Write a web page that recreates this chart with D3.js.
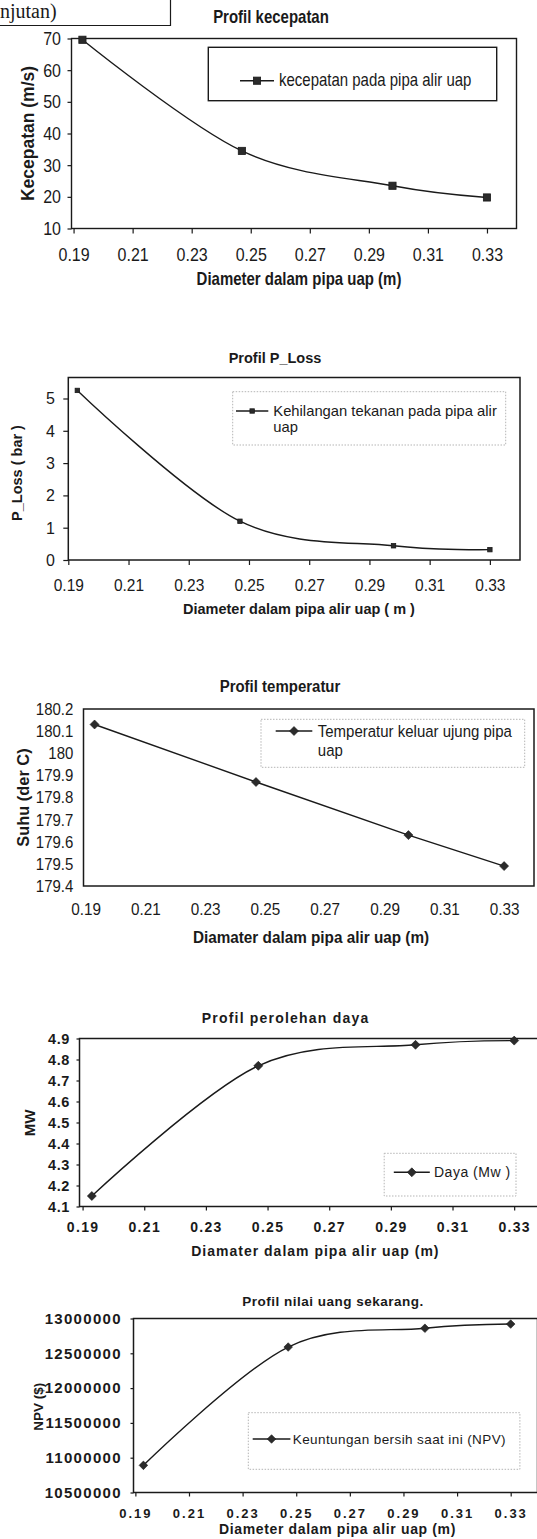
<!DOCTYPE html>
<html><head><meta charset="utf-8">
<script src="https://cdn.jsdelivr.net/npm/d3@7"></script>
<style>
html,body{margin:0;padding:0;background:#fff;}
svg{display:block;}
text{font-family:"Liberation Sans", Arial, Helvetica, sans-serif; fill:#1a1a1a;}
</style></head><body>
<svg id="page" width="537" height="1539"></svg>
<script>
// ---------------- DATA ----------------
const diameter = [0.193, 0.247, 0.298, 0.330];
const xTickValues = [0.19, 0.21, 0.23, 0.25, 0.27, 0.29, 0.31, 0.33];

const kecepatan = [69.6, 34.5, 23.5, 19.8];
const kecepatanTicks = [10, 20, 30, 40, 50, 60, 70];

const pLoss = [5.25, 1.2, 0.44, 0.32];
const pLossTicks = [0, 1, 2, 3, 4, 5];

const temperatur = [180.13, 179.87, 179.63, 179.49];
const temperaturTicks = [179.4, 179.5, 179.6, 179.7, 179.8, 179.9, 180, 180.1, 180.2];

const daya = [4.15, 4.77, 4.87, 4.89];
const dayaTicks = [4.1, 4.2, 4.3, 4.4, 4.5, 4.6, 4.7, 4.8, 4.9];

const npv = [10890000, 12590000, 12860000, 12920000];
const npvTicks = [10500000, 11000000, 11500000, 12000000, 12500000, 13000000];

const titles = ["Profil kecepatan", "Profil P_Loss", "Profil temperatur", "Profil perolehan daya", "Profil nilai uang sekarang."];
const yTitles = ["Kecepatan (m/s)", "P_Loss  ( bar )", "Suhu (der C)", "MW", "NPV ($)"];
const xTitles = ["Diameter dalam pipa uap  (m)", "Diameter dalam pipa alir uap   ( m )", "Diamater dalam pipa alir uap   (m)", "Diamater dalam  pipa alir uap  (m)", "Diameter dalam pipa alir uap  (m)"];
const legendLabels = [["kecepatan pada pipa alir uap"], ["Kehilangan tekanan pada pipa alir", "uap"], ["Temperatur keluar ujung pipa", "uap"], ["Daya (Mw )"], ["Keuntungan  bersih  saat  ini (NPV)"]];

// ---------------- DRAWING ----------------
const svg = d3.select("#page");
const INK = "#1a1a1a";

// page header fragment
svg.append("text").attr("x", 0).attr("y", 18)
  .style("font-family", '"Liberation Serif", "Times New Roman", serif')
  .style("font-size", "20px").text("njutan)");
svg.append("path").attr("d", "M0,25.5H170.5V0").attr("fill", "none").attr("stroke", INK).attr("stroke-width", 1.2);

// vertical stretch of a text around its baseline (the scanned fonts are narrow/tall)
function stretch(sel, k) {
  if (k === 1) return;
  sel.each(function () {
    const t = d3.select(this);
    const yb = +t.attr("y") || 0;
    t.attr("transform", `translate(0,${yb}) scale(1,${k}) translate(0,${-yb})`);
  });
}

function marker(g, type, cx, cy, r, fill) {
  if (type === "square") {
    g.append("rect").attr("x", cx - r).attr("y", cy - r).attr("width", 2 * r).attr("height", 2 * r)
      .attr("fill", fill).attr("stroke", INK).attr("stroke-width", 0.8);
  } else {
    g.append("path").attr("d", `M${cx},${cy - r}L${cx + r},${cy}L${cx},${cy + r}L${cx - r},${cy}Z`)
      .attr("fill", fill).attr("stroke", INK).attr("stroke-width", 0.6);
  }
}

function drawChart(c) {
  const g = svg.append("g");
  const x = d3.scaleLinear().domain(c.xDomain).range([c.left, c.right]);
  const y = d3.scaleLinear().domain(c.yDomain).range([c.bottom, c.top]);
  const k = c.k;

  g.append("rect").attr("x", c.left).attr("y", c.top)
    .attr("width", c.right - c.left).attr("height", c.bottom - c.top)
    .attr("fill", "none").attr("stroke", INK).attr("stroke-width", c.boxW);

  const ya = g.append("g").attr("transform", `translate(${c.left},0)`)
    .call(d3.axisLeft(y).tickValues(c.yTicks).tickFormat(c.yFmt)
      .tickSize(c.yTickLen).tickPadding(c.yPad));
  ya.select(".domain").remove();
  ya.selectAll("line").attr("stroke", INK).attr("stroke-width", 1.2);
  ya.selectAll("text").attr("fill", INK)
    .style("font-size", c.tickFont + "px").style("font-weight", c.tickWeight)
    .style("letter-spacing", c.tickLs + "px")
    .style("font-family", '"Liberation Sans", Arial, sans-serif');
  stretch(ya.selectAll("text"), k);

  const xa = g.append("g").attr("transform", `translate(0,${c.bottom})`)
    .call(d3.axisBottom(x).tickValues(xTickValues).tickFormat(d3.format(".2f"))
      .tickSize(c.xTickLen));
  xa.select(".domain").remove();
  xa.selectAll("line").attr("stroke", INK).attr("stroke-width", 1.2);
  xa.selectAll("text").attr("fill", INK).attr("dy", null).attr("y", c.xLabelBase - c.bottom)
    .style("font-size", c.xTickFont + "px").style("font-weight", c.tickWeight)
    .style("letter-spacing", c.xTickLs + "px")
    .style("font-family", '"Liberation Sans", Arial, sans-serif');
  stretch(xa.selectAll("text"), k);

  const tt = g.append("text").attr("x", c.titleX).attr("y", c.titleY).attr("text-anchor", "middle")
    .style("font-size", c.titleFont + "px").style("font-weight", "bold")
    .style("letter-spacing", c.titleLs + "px").text(c.title);
  stretch(tt, k);

  g.append("text").attr("transform", `translate(${c.yTitleX},${c.yTitleY}) rotate(-90)`)
    .attr("text-anchor", "middle").style("font-size", c.yTitleFont + "px").style("font-weight", "bold")
    .text(c.yTitle);

  const xt = g.append("text").attr("x", c.xTitleX).attr("y", c.xTitleY).attr("text-anchor", "middle")
    .style("font-size", c.xTitleFont + "px").style("font-weight", c.xTitleWeight || "bold")
    .style("letter-spacing", c.xTitleLs + "px").text(c.xTitle);
  stretch(xt, k);

  const pts = c.xs.map((d, i) => [x(d), y(c.ys[i])]);
  g.append("path").attr("d", d3.line().curve(c.smooth ? d3.curveCardinal.tension(0) : d3.curveLinear)(pts))
    .attr("fill", "none").attr("stroke", INK).attr("stroke-width", 1.4);
  pts.forEach(p => marker(g, c.marker, p[0], p[1], c.markerR, c.markerFill));

  const L = c.legend;
  g.append("rect").attr("x", L.x).attr("y", L.y).attr("width", L.w).attr("height", L.h)
    .attr("fill", "none").attr("stroke", L.stroke).attr("stroke-width", L.sw)
    .attr("stroke-dasharray", L.dash);
  g.append("line").attr("x1", L.lx1).attr("x2", L.lx2).attr("y1", L.ly).attr("y2", L.ly)
    .attr("stroke", INK).attr("stroke-width", 1.4);
  marker(g, c.marker, (L.lx1 + L.lx2) / 2, L.ly, c.markerR, c.markerFill);
  c.legendLines.forEach((t, i) => {
    const lt = g.append("text").attr("x", L.tx).attr("y", L.base[i])
      .style("font-size", L.font + "px").style("letter-spacing", L.ls + "px").text(t);
    stretch(lt, k);
  });
}

const fmt1 = v => String(+v.toFixed(1));
const fmt0 = v => String(v);

drawChart({
  k: 1.2,
  xDomain: [0.1893, 0.34], yDomain: [10, 70], left: 71.5, right: 516.5, top: 38.5, bottom: 228.5, boxW: 1.4,
  yTicks: kecepatanTicks, yFmt: fmt0, yTickLen: 4, yPad: 6.5, tickFont: 16, tickWeight: "normal", tickLs: 0,
  xTickLen: 5, xLabelBase: 261, xTickFont: 16, xTickLs: 0,
  title: titles[0], titleX: 271, titleY: 23, titleFont: 15, titleLs: 0,
  yTitle: yTitles[0], yTitleX: 34, yTitleY: 133.5, yTitleFont: 17.5,
  xTitle: xTitles[0], xTitleX: 299, xTitleY: 285, xTitleFont: 15, xTitleLs: 0,
  xs: diameter, ys: kecepatan, smooth: true, marker: "square", markerR: 3.6, markerFill: "#2b2b2b",
  legendLines: legendLabels[0],
  legend: {x: 208.3, y: 47.3, w: 288.4, h: 53.4, stroke: INK, sw: 1.4, dash: null,
    lx1: 240, lx2: 274, ly: 80.7, tx: 279, base: [86], font: 15, ls: 0}
});

drawChart({
  k: 1.04,
  xDomain: [0.19, 0.34], yDomain: [0, 5.65], left: 68.3, right: 520, top: 377.5, bottom: 560, boxW: 1.5,
  yTicks: pLossTicks, yFmt: fmt0, yTickLen: 5, yPad: 8.3, tickFont: 16, tickWeight: "normal", tickLs: 0,
  xTickLen: 5, xLabelBase: 591.5, xTickFont: 15.5, xTickLs: 0,
  title: titles[1], titleX: 275, titleY: 363, titleFont: 14.5, titleLs: 0,
  yTitle: yTitles[1], yTitleX: 22, yTitleY: 473, yTitleFont: 14.5,
  xTitle: xTitles[1], xTitleX: 299, xTitleY: 614, xTitleFont: 14.5, xTitleLs: 0,
  xs: diameter, ys: pLoss, smooth: true, marker: "square", markerR: 2.2, markerFill: "#2b2b2b",
  legendLines: legendLabels[1],
  legend: {x: 232.7, y: 391.7, w: 273, h: 53.3, stroke: "#b5b5b5", sw: 1, dash: "1.5,1.5",
    lx1: 236, lx2: 268.3, ly: 411, tx: 273.3, base: [416, 432.5], font: 14.8, ls: 0}
});

drawChart({
  k: 1.12,
  xDomain: [0.1893, 0.34], yDomain: [179.4, 180.2], left: 83.5, right: 534, top: 709, bottom: 886, boxW: 1.5,
  yTicks: temperaturTicks, yFmt: fmt1, yTickLen: 0, yPad: 10.2, tickFont: 15, tickWeight: "normal", tickLs: 0,
  xTickLen: 0, xLabelBase: 915, xTickFont: 15.3, xTickLs: 0,
  title: titles[2], titleX: 280, titleY: 692, titleFont: 15, titleLs: 0,
  yTitle: yTitles[2], yTitleX: 28.5, yTitleY: 797.5, yTitleFont: 16.4,
  xTitle: xTitles[2], xTitleX: 311, xTitleY: 943.3, xTitleFont: 15.3, xTitleLs: 0,
  xs: diameter, ys: temperatur, smooth: false, marker: "diamond", markerR: 4.5, markerFill: "#2b2b2b",
  legendLines: legendLabels[2],
  legend: {x: 261, y: 719.3, w: 263.7, h: 48, stroke: "#b5b5b5", sw: 1, dash: "1.5,1.5",
    lx1: 275.7, lx2: 312.3, ly: 731, tx: 317.8, base: [737, 756.5], font: 15, ls: 0}
});

drawChart({
  k: 1,
  xDomain: [0.189, 0.34], yDomain: [4.1, 4.9], left: 79.5, right: 545, top: 1038.5, bottom: 1206.5, boxW: 1.5,
  yTicks: dayaTicks, yFmt: fmt1, yTickLen: 3, yPad: 6.5, tickFont: 14.5, tickWeight: "bold", tickLs: 0.6,
  xTickLen: 4, xLabelBase: 1231.5, xTickFont: 14, xTickLs: 1.3,
  title: titles[3], titleX: 285.6, titleY: 1023, titleFont: 14, titleLs: 1.2,
  yTitle: yTitles[3], yTitleX: 35, yTitleY: 1123, yTitleFont: 15,
  xTitle: xTitles[3], xTitleX: 315.4, xTitleY: 1256, xTitleFont: 14, xTitleLs: 1,
  xs: diameter, ys: daya, smooth: true, marker: "diamond", markerR: 4.5, markerFill: "#2b2b2b",
  legendLines: legendLabels[3],
  legend: {x: 384.2, y: 1153.3, w: 131.8, h: 42.7, stroke: "#b5b5b5", sw: 1, dash: "1.5,1.5",
    lx1: 393.8, lx2: 429.8, ly: 1172.3, tx: 434, base: [1177.3], font: 14, ls: 0.5}
});

drawChart({
  k: 1,
  xDomain: [0.1893, 0.34], yDomain: [10500000, 13000000], left: 133.5, right: 537.5, top: 1318.5, bottom: 1492.5, boxW: 1.5,
  yTicks: npvTicks, yFmt: fmt0, yTickLen: 3, yPad: 8.7, tickFont: 15, tickWeight: "bold", tickLs: 1.3,
  xTickLen: 4, xLabelBase: 1517.5, xTickFont: 13, xTickLs: 2,
  title: titles[4], titleX: 333, titleY: 1306, titleFont: 13.5, titleLs: 0.5,
  yTitle: yTitles[4], yTitleX: 42.5, yTitleY: 1406.7, yTitleFont: 13.5,
  xTitle: xTitles[4], xTitleX: 337.5, xTitleY: 1533.5, xTitleFont: 14, xTitleLs: 0.65,
  xs: diameter, ys: npv, smooth: true, marker: "diamond", markerR: 4.3, markerFill: "#2b2b2b",
  legendLines: legendLabels[4],
  legend: {x: 248.3, y: 1412.7, w: 271.6, h: 56.6, stroke: "#b5b5b5", sw: 1, dash: "1.5,1.5",
    lx1: 252.7, lx2: 290.4, ly: 1439, tx: 292.8, base: [1443.5], font: 13.5, ls: 0.4}
});
</script>
</body></html>
